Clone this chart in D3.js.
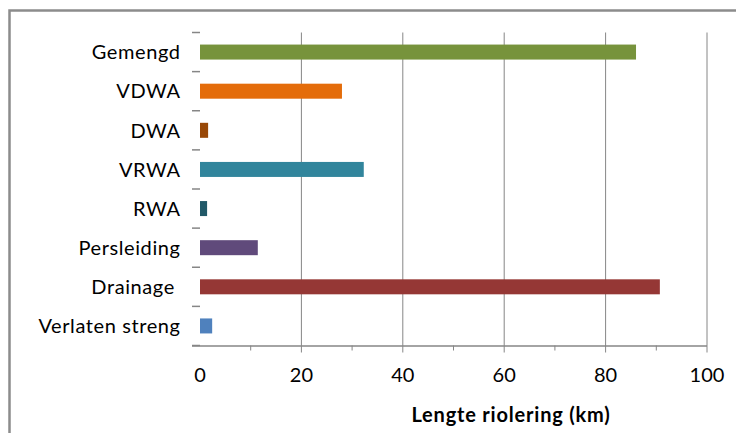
<!DOCTYPE html>
<html>
<head>
<meta charset="utf-8">
<script src="https://cdn.jsdelivr.net/npm/d3@7"></script>
<style>
  html, body { margin: 0; padding: 0; background: #fff; }
  svg { display: block; }
  text { font-family: Lato, "Liberation Sans", sans-serif; fill: #000; }
</style>
</head>
<body>
<script>
// Sewer length per type (km)
const categories = ["Gemengd", "VDWA", "DWA", "VRWA", "RWA", "Persleiding", "Drainage ", "Verlaten streng"];
const values = [86.0, 28.0, 1.6, 32.3, 1.4, 11.4, 90.7, 2.4];
const colors = ["#77933c", "#e46c0a", "#984807", "#31859c", "#215968", "#604a7b", "#953735", "#4f81bd"];
const xTicks = [0, 20, 40, 60, 80, 100];
const xMinorTicks = [10, 30, 50, 70, 90];
const xTitle = "Lengte riolering (km)";

const W = 736, H = 433;
const plot = { left: 200, right: 707, top: 32.5, bottom: 345.5 };

const svg = d3.select("body").append("svg")
  .attr("width", W).attr("height", H);

// chart frame
svg.append("rect")
  .attr("x", 9.5).attr("y", 10.5)
  .attr("width", 900).attr("height", 600)
  .attr("fill", "none").attr("stroke", "#8c8c8c").attr("stroke-width", 2.5);

const x = d3.scaleLinear().domain([0, 100]).range([plot.left, plot.right]);
const y = d3.scaleBand().domain(categories)
  .range([plot.top, plot.bottom])
  .paddingInner(1 - 15 / 39.125)
  .paddingOuter((1 - 15 / 39.125) / 2);

const gridColor = "#868686";

// vertical gridlines with major ticks below the axis
svg.append("g").selectAll("line")
  .data(xTicks.filter(d => d > 0))
  .join("line")
  .attr("x1", d => x(d)).attr("x2", d => x(d))
  .attr("y1", plot.top).attr("y2", plot.bottom + 7)
  .attr("stroke", gridColor).attr("stroke-width", 1);

// minor ticks
svg.append("g").selectAll("line")
  .data(xMinorTicks)
  .join("line")
  .attr("x1", d => x(d)).attr("x2", d => x(d))
  .attr("y1", plot.bottom).attr("y2", plot.bottom + 5)
  .attr("stroke", gridColor).attr("stroke-width", 1);

// category separator ticks on the left
const step = y.step();
svg.append("g").selectAll("line")
  .data(d3.range(categories.length + 1))
  .join("line")
  .attr("x1", plot.left - 8).attr("x2", plot.left)
  .attr("y1", i => plot.top + i * step).attr("y2", i => plot.top + i * step)
  .attr("stroke", gridColor).attr("stroke-width", 1.5);

// bars
svg.append("g").selectAll("rect")
  .data(categories)
  .join("rect")
  .attr("x", x(0))
  .attr("y", d => y(d))
  .attr("width", (d, i) => x(values[i]) - x(0))
  .attr("height", y.bandwidth())
  .attr("fill", (d, i) => colors[i]);

// x axis line
svg.append("line")
  .attr("x1", plot.left - 8).attr("x2", plot.right)
  .attr("y1", plot.bottom + 0.5).attr("y2", plot.bottom + 0.5)
  .attr("stroke", gridColor).attr("stroke-width", 1.5);

// category labels
svg.append("g").selectAll("text")
  .data(categories)
  .join("text")
  .attr("x", plot.left - 20 + 0.6)
  .attr("y", d => y(d) + y.bandwidth() / 2)
  .attr("dy", "0.36em")
  .attr("text-anchor", "end")
  .style("white-space", "pre")
  .style("font-size", "20px")
  .style("letter-spacing", "0.6px")
  .text(d => d);

// x tick labels
svg.append("g").selectAll("text")
  .data(xTicks)
  .join("text")
  .attr("x", d => x(d))
  .attr("y", 382)
  .attr("text-anchor", "middle")
  .style("font-size", "20px")
  .text(d => d);

// axis title
svg.append("text")
  .attr("x", 511).attr("y", 422)
  .attr("text-anchor", "middle")
  .style("font-size", "20px")
  .style("font-weight", "bold")
  .style("letter-spacing", "0.8px")
  .text(xTitle);
</script>
</body>
</html>
